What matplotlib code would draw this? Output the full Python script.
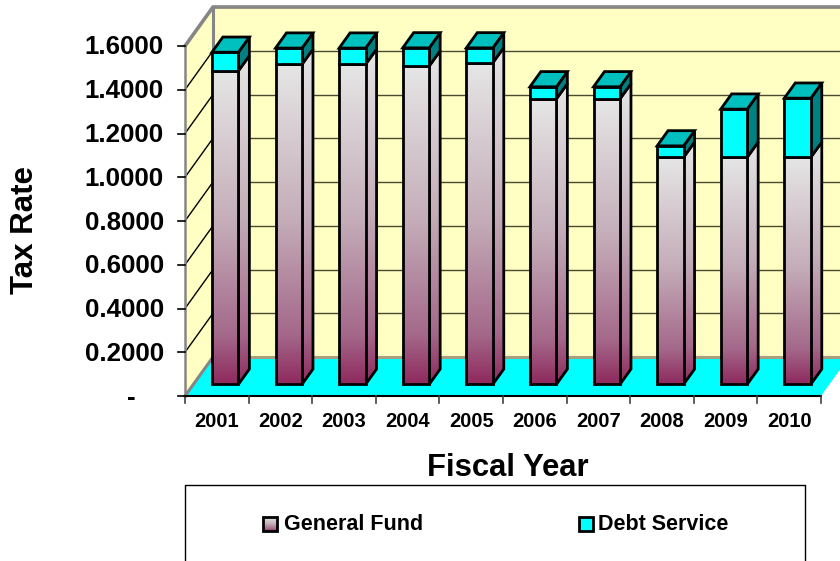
import matplotlib
matplotlib.use('Agg')
import matplotlib.pyplot as plt
from matplotlib.colors import LinearSegmentedColormap
from matplotlib.patches import Polygon
import numpy as np

years = ['2001', '2002', '2003', '2004', '2005', '2006', '2007', '2008', '2009', '2010']
general_fund = [1.433, 1.463, 1.463, 1.455, 1.470, 1.305, 1.305, 1.038, 1.038, 1.038]
debt_service = [0.085, 0.074, 0.074, 0.083, 0.068, 0.055, 0.055, 0.052, 0.220, 0.270]
y_ticks = [0.2, 0.4, 0.6, 0.8, 1.0, 1.2, 1.4, 1.6]

WALL = '#FFFFC4'
CYAN = '#00FFFF'
CYAN_TOP = '#00BFBF'
CYAN_SIDE = '#008080'
GRAY = '#868686'
BAR_CMAP = LinearSegmentedColormap.from_list(
    'fund', [(0, '#E6E6E6'), (0.5, '#C3ABB7'), (0.85, '#A4688A'), (1, '#8E2A5E')])

plt.rcParams['font.family'] = ['Liberation Sans', 'DejaVu Sans']
plt.rcParams['font.weight'] = 'bold'

W, H = 840, 561
LEFT, RIGHT, BASE, TOP = 185, 821, 396, 46
fig = plt.figure(figsize=(W / 100, H / 100), dpi=100)
ax = fig.add_axes([LEFT / W, 1 - BASE / H, (RIGHT - LEFT) / W, (BASE - TOP) / H])
ax.axis('off')

# one category is 63.6 px wide, one tax rate unit is 218.75 px tall
x_unit = (RIGHT - LEFT) / len(years)
y_unit = (BASE - TOP) / 1.6
DX = 28 / x_unit
DY = 39 / y_unit
EDGE = 2.0


def depth(x, y, d):
    return (x + d * DX, y + d * DY)


def poly(points, **kw):
    kw.setdefault('clip_on', False)
    p = Polygon(points, closed=True, **kw)
    ax.add_patch(p)
    return p


def gradient(points, zorder):
    # vertical fade clipped to the outline of one bar face
    pts = np.array(points)
    im = ax.imshow(np.linspace(0, 1, 128).reshape(-1, 1), cmap=BAR_CMAP, aspect='auto', origin='upper',
                   extent=(pts[:, 0].min(), pts[:, 0].max(), pts[:, 1].min(), pts[:, 1].max()), zorder=zorder)
    clip = Polygon(points, closed=True, transform=ax.transData, fill=False, edgecolor='none', clip_on=False)
    ax.add_patch(clip)
    im.set_clip_box(fig.bbox)
    im.set_clip_path(clip)
    poly(points, facecolor='none', edgecolor='black', linewidth=EDGE, zorder=zorder + 0.1)


n = len(years)
xmax = n + 1

# walls and floor
poly([depth(0, 0, 1), depth(xmax, 0, 1), depth(xmax, 1.6, 1), depth(0, 1.6, 1)], facecolor=WALL, edgecolor='none', zorder=1)
poly([depth(0, 0, 0), depth(0, 0, 1), depth(0, 1.6, 1), depth(0, 1.6, 0)], facecolor=WALL, edgecolor='none', zorder=1)

for t in y_ticks:
    ax.plot([depth(0, t, 1)[0], xmax + DX], [t + DY, t + DY], color='#4A4A30', lw=1, clip_on=False, zorder=1.5)
    ax.plot([0, DX], [t, t + DY], color='black', lw=1, clip_on=False, zorder=1.5)

poly([depth(0, 0, 0), depth(n, 0, 0), depth(n, 0, 1), depth(xmax, 0, 1), depth(0, 0, 1)], facecolor=CYAN, edgecolor='none', zorder=2)

ax.plot([DX, xmax + DX], [DY, DY], color='#A89F80', lw=2.2, clip_on=False, zorder=2.2)
ax.plot([0, DX], [0, DY], color=GRAY, lw=2.2, clip_on=False, zorder=2.2)
ax.plot([DX, DX], [DY, 1.6 + DY], color=GRAY, lw=2.2, clip_on=False, zorder=1.6)
ax.plot([0, DX, xmax + DX], [1.6, 1.6 + DY, 1.6 + DY], color=GRAY, lw=2.6, clip_on=False, zorder=1.6)
ax.plot([0, 0], [0, 1.6], color=GRAY, lw=1.8, clip_on=False, zorder=2.3)

# stacked 3D columns, sitting between 30% and 69% of the floor depth
D0, D1 = 0.30, 0.69
BAR_W = 26.5 / x_unit
for i in range(n):
    left = i + 0.5 - BAR_W / 2
    right = left + BAR_W
    fund = general_fund[i]
    total = fund + debt_service[i]

    gradient([depth(right, 0, D0), depth(right, 0, D1), depth(right, fund, D1), depth(right, fund, D0)], 3)
    gradient([depth(left, 0, D0), depth(right, 0, D0), depth(right, fund, D0), depth(left, fund, D0)], 3.2)
    poly([depth(right, fund, D0), depth(right, fund, D1), depth(right, total, D1), depth(right, total, D0)],
         facecolor=CYAN_SIDE, edgecolor='black', linewidth=EDGE, zorder=3.4)
    poly([depth(left, fund, D0), depth(right, fund, D0), depth(right, total, D0), depth(left, total, D0)],
         facecolor=CYAN, edgecolor='black', linewidth=EDGE, zorder=3.5)
    poly([depth(left, total, D0), depth(right, total, D0), depth(right, total, D1), depth(left, total, D1)],
         facecolor=CYAN_TOP, edgecolor='black', linewidth=EDGE, zorder=3.5)

# axis lines, ticks and their labels
ax.plot([0, n], [0, 0], color='black', lw=1.5, clip_on=False, zorder=4)
tick_len = 7 / y_unit
for i in range(n + 1):
    ax.plot([i, i], [0, -tick_len], color='#404040', lw=1.2, clip_on=False, zorder=4)
for t in [0] + y_ticks:
    ax.plot([-7 / x_unit, 0], [t, t], color='black', lw=1.2, clip_on=False, zorder=4)
    if t:
        ax.text(-21 / x_unit, t - 1.5 / y_unit, '%.4f' % t, ha='right', va='center', fontsize=18.6, fontweight='bold')
    else:
        ax.text(-54 / x_unit, t - 1.5 / y_unit, '-', ha='center', va='center', fontsize=18.6, fontweight='bold')

for i, year in enumerate(years):
    ax.text(i + 0.5, -25.5 / y_unit, year, ha='center', va='center', fontsize=14.5, fontweight='bold')


def px(x, y):
    return ((x - LEFT) / x_unit, (BASE - y) / y_unit)


ax.text(*px(508, 468), 'Fiscal Year', ha='center', va='center', fontsize=22.3, fontweight='bold')
ax.text(*px(25, 230), 'Tax Rate', ha='center', va='center', rotation=90, fontsize=22.5, fontweight='bold')

# legend box runs off the bottom of the figure
box = [px(185, 600), px(185, 485), px(805, 485), px(805, 600)]
ax.plot(*zip(*box), color='black', lw=1, clip_on=False, zorder=4)
gradient([px(263, 531), px(277, 531), px(277, 517), px(263, 517)], 5)
poly([px(579, 531), px(593, 531), px(593, 517), px(579, 517)], facecolor=CYAN, edgecolor='black', linewidth=EDGE, zorder=5)
ax.text(*px(284, 525), 'General Fund', ha='left', va='center', fontsize=15.5, fontweight='bold')
ax.text(*px(598, 525), 'Debt Service', ha='left', va='center', fontsize=15.5, fontweight='bold')

ax.set_xlim(0, n)
ax.set_ylim(0, 1.6)
fig.savefig('out.png', dpi=100, facecolor='white')
